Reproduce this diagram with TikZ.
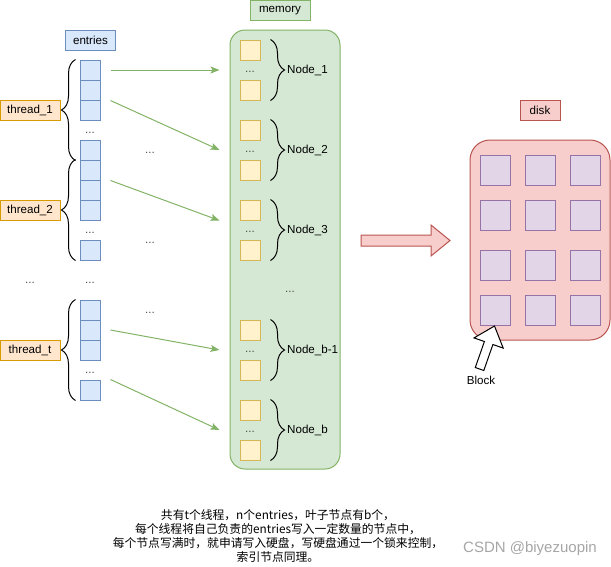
\documentclass[tikz,border=0pt]{standalone}
\usepackage{fontspec}
\setmainfont{Liberation Sans}
\newfontfamily\cjk{Noto Sans CJK SC}
\usetikzlibrary{arrows.meta,calc,decorations.pathreplacing}

\definecolor{entfill}{HTML}{DAE8FC}
\definecolor{entline}{HTML}{6C8EBF}
\definecolor{thrfill}{HTML}{FFE6CC}
\definecolor{thrline}{HTML}{D79B00}
\definecolor{memfill}{HTML}{D5E8D4}
\definecolor{memline}{HTML}{82B366}
\definecolor{cellfill}{HTML}{FFF2CC}
\definecolor{cellline}{HTML}{D6B656}
\definecolor{diskfill}{HTML}{F8CECC}
\definecolor{diskline}{HTML}{B85450}
\definecolor{blkfill}{HTML}{E1D5E7}
\definecolor{blkline}{HTML}{9673A6}
\definecolor{wmgray}{HTML}{A6A6A6}

\begin{document}
\begin{tikzpicture}[x=1pt, y=-1pt,
    every node/.style={font=\fontsize{11.6}{13}\selectfont, inner sep=0pt},
    entry/.style={draw=entline, fill=entfill, line width=1pt, minimum size=20pt},
    thread/.style={draw=thrline, fill=thrfill, line width=1pt, minimum width=60pt, minimum height=20pt},
    mcell/.style={draw=cellline, fill=cellfill, line width=1pt, minimum size=20pt},
    dcell/.style={draw=blkline, fill=blkfill, line width=1pt, minimum size=30pt},
    dots/.style={text=black!70},
    brc/.style={decorate, decoration={brace, amplitude=14pt}, line width=1pt},
    flow/.style={draw=memline, line width=1pt, -{Stealth[length=9pt, width=7pt, inset=2pt]}}
]
\useasboundingbox (0,0) rectangle (611,566);

% labels on top
\node[draw=entline, fill=entfill, line width=1pt, minimum width=50pt, minimum height=20pt] (entlbl) at (90.5,40) {entries};
\node[draw=memline, fill=memfill, line width=1pt, minimum width=60pt, minimum height=20pt] (memlbl) at (280,10.5) {memory};
\node[draw=diskline, fill=diskfill, line width=1pt, minimum width=40pt, minimum height=20pt] (disklbl) at (540,110) {disk};

% containers
\node[draw=memline, fill=memfill, line width=1pt, rounded corners=15pt, minimum width=110pt, minimum height=439pt] (mem) at (285,249.5) {};
\node[draw=diskline, fill=diskfill, line width=1pt, rounded corners=20pt, minimum width=140pt, minimum height=200pt] (disk) at (540,240) {};

% entries of thread_1
\node[entry] (a1) at (90,70) {};
\node[entry] (a2) at (90,90) {};
\node[entry] (a3) at (90,110) {};
\node[dots] at (90,133) {...};
\node[entry] (a4) at (90,150) {};
% entries of thread_2
\node[entry] (b1) at (90,170) {};
\node[entry] (b2) at (90,190) {};
\node[entry] (b3) at (90,210) {};
\node[dots] at (90,233) {...};
\node[entry] (b4) at (90,250) {};
% entries of thread_t
\node[entry] (c1) at (90,310) {};
\node[entry] (c2) at (90,330) {};
\node[entry] (c3) at (90,350) {};
\node[dots] at (90,373) {...};
\node[entry] (c4) at (90,390) {};

\node[dots] at (30,283) {...};
\node[dots] at (90,283) {...};

% threads
\node[thread] (t1) at (30,110) {thread\_1};
\node[thread] (t2) at (30,210) {thread\_2};
\node[thread] (tt) at (30,350) {thread\_t};

\draw[brc] ([xshift=-4pt]a4.south west) -- ([xshift=-4pt]a1.north west);
\draw[brc] ([xshift=-4pt]b4.south west) -- ([xshift=-4pt]b1.north west);
\draw[brc] ([xshift=-4pt]c4.south west) -- ([xshift=-4pt]c1.north west);

% leaf nodes in memory
\node[mcell] (m1a) at (250,50) {};
\node[dots] at (250,72) {...};
\node[mcell] (m1b) at (250,90) {};
\node[mcell] (m2a) at (250,130) {};
\node[dots] at (250,152) {...};
\node[mcell] (m2b) at (250,170) {};
\node[mcell] (m3a) at (250,210) {};
\node[dots] at (250,232) {...};
\node[mcell] (m3b) at (250,250) {};
\node[dots] at (290,292) {...};
\node[mcell] (m4a) at (250,330) {};
\node[dots] at (250,352) {...};
\node[mcell] (m4b) at (250,370) {};
\node[mcell] (m5a) at (250,410) {};
\node[dots] at (250,432) {...};
\node[mcell] (m5b) at (250,450) {};

\draw[brc] ([xshift=10pt]m1a.north east) -- ([xshift=10pt]m1b.south east);
\draw[brc] ([xshift=10pt]m2a.north east) -- ([xshift=10pt]m2b.south east);
\draw[brc] ([xshift=10pt]m3a.north east) -- ([xshift=10pt]m3b.south east);
\draw[brc] ([xshift=10pt]m4a.north east) -- ([xshift=10pt]m4b.south east);
\draw[brc] ([xshift=10pt]m5a.north east) -- ([xshift=10pt]m5b.south east);

\node[anchor=west] (n1) at (287,70) {Node\_1};
\node[anchor=west] (n2) at (287,150) {Node\_2};
\node[anchor=west] (n3) at (287,230) {Node\_3};
\node[anchor=west] (n4) at (287,350) {Node\_b-1};
\node[anchor=west] (n5) at (287,430) {Node\_b};

% entries -> memory
\draw[flow] ($(a1.east)+(10,0)$) -- ($(mem.west |- n1)-(10,0)$);
\draw[flow] ($(a2.south east)+(10,0)$) -- ($(mem.west |- n2)-(10,0)$);
\draw[flow] ($(b1.south east)+(10,0)$) -- ($(mem.west |- m3a.south)-(10,0)$);
\draw[flow] ($(c2.east)+(10,0)$) -- ($(mem.west |- n4)-(10,0)$);
\draw[flow] ($(c4.north east)+(10,0)$) -- ($(mem.west |- n5)-(10,0)$);

\node[dots] at (150,153) {...};
\node[dots] at (150,243) {...};
\node[dots] at (150,313) {...};

% memory -> disk
\draw[draw=diskline, fill=diskfill, line width=1pt] (361,235) -- (431,235) -- (431,225) -- (450,240.5) -- (431,256) -- (431,246) -- (361,246) -- cycle;

% blocks on disk
\node[dcell] (d11) at (495,170) {};
\node[dcell] (d12) at (540,170) {};
\node[dcell] (d13) at (585,170) {};
\node[dcell] (d21) at (495,215) {};
\node[dcell] (d22) at (540,215) {};
\node[dcell] (d23) at (585,215) {};
\node[dcell] (d31) at (495,265) {};
\node[dcell] (d32) at (540,265) {};
\node[dcell] (d33) at (585,265) {};
\node[dcell] (d41) at (495,310) {};
\node[dcell] (d42) at (540,310) {};
\node[dcell] (d43) at (585,310) {};

% Block pointer
\draw[fill=white, line width=1pt] (494.5,326) -- (503.2,348.1) -- (492.9,344.5) -- (483.8,370.5) -- (475.3,367.5) -- (484.4,341.5) -- (474.0,337.9) -- cycle;
\node (blk) at (481,380) {Block};

\node[align=center, font=\cjk\fontsize{11.8}{14.3}\selectfont] (note) at (278,536) {共有t个线程，n个entries，叶子节点有b个，\\每个线程将自己负责的entries写入一定数量的节点中，\\每个节点写满时，就申请写入硬盘，写硬盘通过一个锁来控制，\\索引节点同理。};

\node[text=wmgray, font=\fontsize{15}{17}\selectfont] (wm) at (530,549) {CSDN @biyezuopin};
\end{tikzpicture}
\end{document}
